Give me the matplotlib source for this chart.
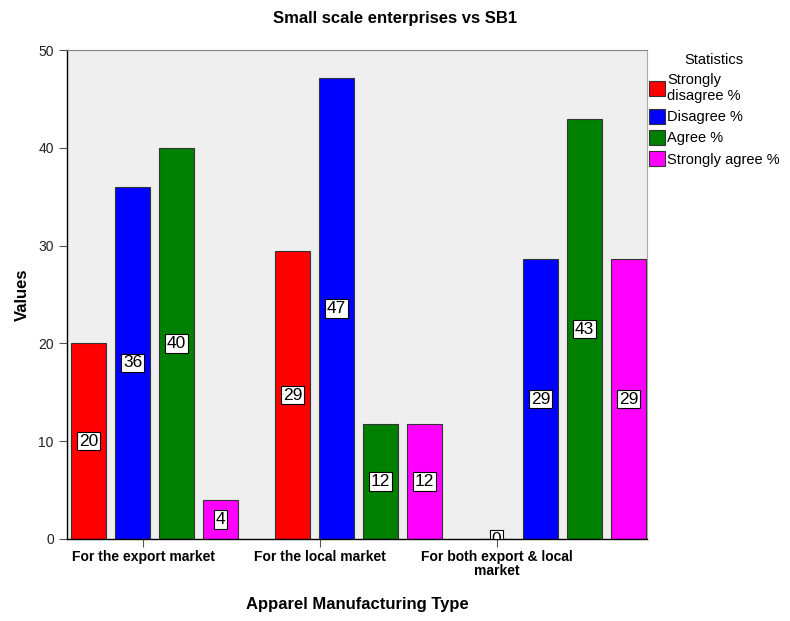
import matplotlib.pyplot as plt
from matplotlib.patches import Patch

plt.rcParams['font.family'] = ['Liberation Sans', 'DejaVu Sans']

# categories and percentages per response
categories = ['For the export market', 'For the local market', 'For both export & local\nmarket']
statistics = ['Strongly\ndisagree %', 'Disagree %', 'Agree %', 'Strongly agree %']
strongly_disagree = [20.0, 29.4, 0.0]
disagree = [36.0, 47.1, 28.6]
agree = [40.0, 11.8, 42.9]
strongly_agree = [4.0, 11.8, 28.6]

series = [strongly_disagree, disagree, agree, strongly_agree]
colors = ['#ff0000', '#0000ff', '#008000', '#ff00ff']

fig = plt.figure(figsize=(7.9, 6.21), dpi=100)
ax = fig.add_axes([67 / 790, 82 / 621, 580 / 790, 489 / 621])
ax.set_facecolor('#efefef')

stride = 44 / 204
width = 35 / 204
for j, (vals, col) in enumerate(zip(series, colors)):
    for i, v in enumerate(vals):
        x = i + (j - 1.5) * stride
        ax.bar(x, v, width=width, color=col, edgecolor='#333333', linewidth=0.8, zorder=2)
        ax.text(x, v / 2, f'{v:.0f}', ha='center', va='center', fontsize=12.5,
                zorder=3, clip_on=True,
                bbox=dict(boxstyle='square,pad=0.1', fc='white', ec='black', lw=0.8))

ax.set_xlim(-0.429, 2.414)
ax.set_ylim(0, 50)
ax.set_yticks(range(0, 51, 10))
ax.tick_params(axis='y', labelsize=10, length=6, color='#555555', labelcolor='#222222')

# category ticks sit left of the group centres
ax.set_xticks([-0.056, 0.811, 1.679])
ax.set_xticklabels(categories, fontsize=10, fontweight='bold', linespacing=0.95)
ax.tick_params(axis='x', length=6, color='#555555', direction='out', pad=2)

for side in ['left', 'bottom']:
    ax.spines[side].set_color('black')
    ax.spines[side].set_linewidth(1)
ax.spines['top'].set_color('#888888')
ax.spines['right'].set_color('#aaaaaa')

ax.set_ylabel('Values', fontsize=12, fontweight='bold', labelpad=6)
ax.set_xlabel('Apparel Manufacturing Type', fontsize=12, fontweight='bold', labelpad=14)
fig.text(395 / 790, 1 - 18 / 621, 'Small scale enterprises vs SB1', ha='center',
         va='center', fontsize=12, fontweight='bold')

handles = [Patch(facecolor=c, edgecolor='#333333', lw=0.8) for c in colors]
leg = fig.legend(handles, statistics, title='Statistics', loc='upper left',
                 bbox_to_anchor=(646 / 790, 1 - 50 / 621), frameon=False,
                 fontsize=10.5, title_fontsize=10.5, handlelength=1.1, handleheight=1.2,
                 handletextpad=0.15, labelspacing=0.4, borderpad=0.2, borderaxespad=0)

fig.savefig('out.png', dpi=100)
